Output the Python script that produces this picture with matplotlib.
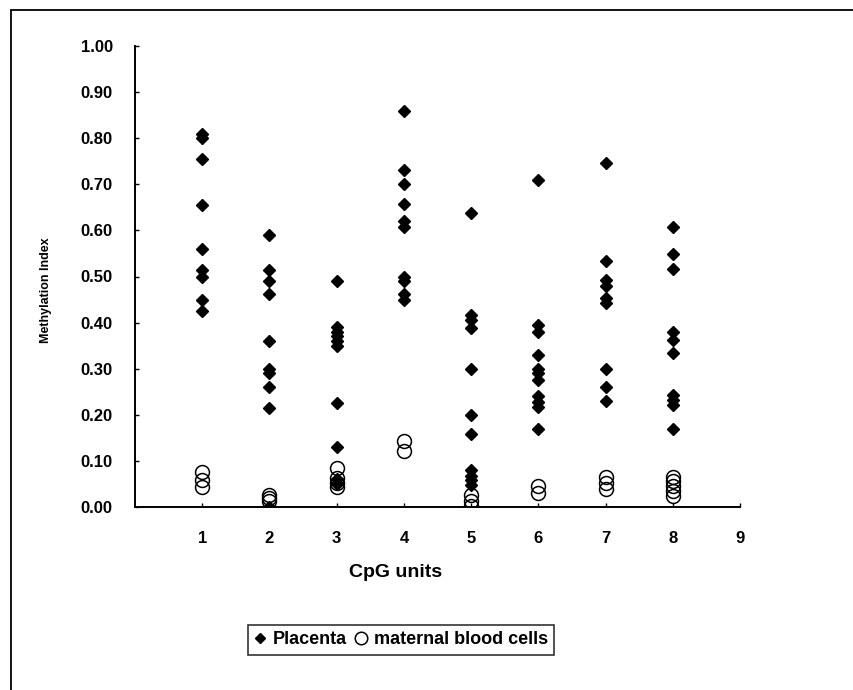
import numpy as np
import matplotlib.pyplot as plt
from matplotlib.patches import Rectangle

plt.rcParams['font.family'] = ['Liberation Sans', 'DejaVu Sans']

# Methylation index per CpG unit
cpg_units = [1, 2, 3, 4, 5, 6, 7, 8]
placenta = {
    1: [0.81, 0.80, 0.755, 0.655, 0.56, 0.515, 0.50, 0.45, 0.425],
    2: [0.59, 0.515, 0.49, 0.462, 0.36, 0.30, 0.29, 0.26, 0.215, 0.0],
    3: [0.49, 0.39, 0.38, 0.37, 0.36, 0.35, 0.225, 0.13, 0.06, 0.05],
    4: [0.86, 0.73, 0.70, 0.657, 0.62, 0.608, 0.50, 0.49, 0.462, 0.449],
    5: [0.637, 0.416, 0.406, 0.388, 0.30, 0.20, 0.158, 0.08, 0.068, 0.058, 0.048],
    6: [0.71, 0.395, 0.38, 0.33, 0.30, 0.29, 0.275, 0.24, 0.228, 0.216, 0.17],
    7: [0.747, 0.534, 0.492, 0.48, 0.453, 0.442, 0.30, 0.26, 0.23],
    8: [0.608, 0.549, 0.516, 0.38, 0.362, 0.333, 0.243, 0.232, 0.221, 0.17],
}
maternal = {
    1: [0.075, 0.058, 0.044],
    2: [0.027, 0.019, 0.012],
    3: [0.084, 0.062, 0.051, 0.044],
    4: [0.143, 0.122],
    5: [0.025, 0.012, 0.003],
    6: [0.046, 0.031],
    7: [0.066, 0.053, 0.04],
    8: [0.066, 0.056, 0.046, 0.034, 0.024],
}
y_ticks = np.arange(0, 1.01, 0.1)
x_ticks = list(range(1, 10))

fig = plt.figure(figsize=(8.54, 6.90), dpi=100)
ax = fig.add_axes([135/854, 1 - 507/690, (740 - 135)/854, (507 - 46)/690])

px, py, mx, my = [], [], [], []
for u in cpg_units:
    px += [u] * len(placenta[u]); py += placenta[u]
    mx += [u] * len(maternal[u]); my += maternal[u]

ax.plot(mx, my, 'o', ms=10, mfc='none', mec='black', mew=1.1, ls='none',
        label='maternal blood cells', zorder=3)
ax.plot(px, py, 'D', ms=6.5, color='black', ls='none', label='Placenta', zorder=4)

ax.set_xlim(0, 9)
ax.set_ylim(0, 1.0)
ax.set_xticks(x_ticks)
ax.set_yticks(y_ticks)
ax.set_yticklabels([f'{v:.2f}' for v in y_ticks])
ax.tick_params(direction='in', length=3, width=1, labelsize=12)
ax.tick_params(axis='y', pad=16)
ax.tick_params(axis='x', pad=17)
for lab in ax.get_xticklabels() + ax.get_yticklabels():
    lab.set_fontweight('bold')

ax.spines['top'].set_visible(False)
ax.spines['right'].set_visible(False)
ax.spines['left'].set_linewidth(1.4)
ax.spines['bottom'].set_linewidth(1.4)

ax.set_xlabel('CpG units', fontsize=14, fontweight='bold')
ax.xaxis.set_label_coords(0.43, -0.124)
ax.set_ylabel('Methylation Index', fontsize=9, fontweight='bold')
ax.yaxis.set_label_coords(-0.137, 0.47)

handles, labels = ax.get_legend_handles_labels()
leg = fig.legend(handles[::-1], labels[::-1], loc='center', bbox_to_anchor=(401/854, 1 - 640/690),
                 ncol=2, frameon=True, fancybox=False, edgecolor='black', handlelength=0.6,
                 handletextpad=0.4, columnspacing=0.5, borderpad=0.35,
                 prop={'weight': 'bold', 'size': 13})
leg.get_frame().set_linewidth(1.2)
leg.legend_handles[0].set_markersize(5)
leg.legend_handles[1].set_markersize(9)

# outer frame of the scanned figure (left and top edges visible)
fig.patches.append(Rectangle((11/854, -0.1), 1.0, 1 - 10/690 + 0.1,
                             transform=fig.transFigure, fill=False, edgecolor='black', lw=1.3))

fig.savefig('out.png', dpi=100)
